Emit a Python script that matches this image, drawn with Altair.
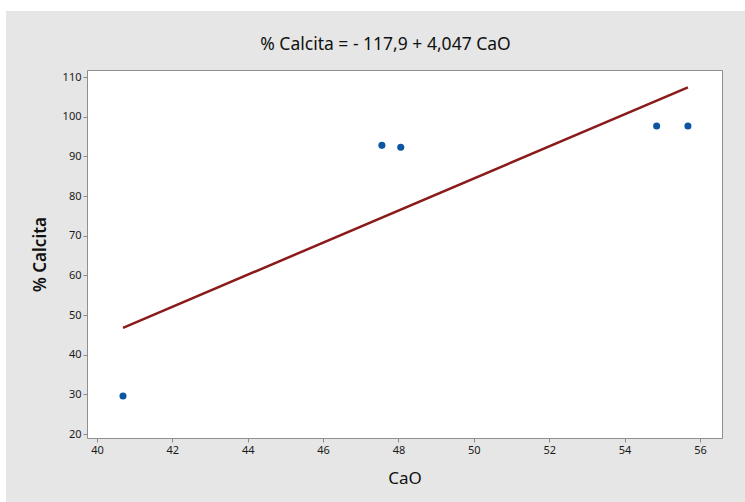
import altair as alt
import pandas as pd

# Observations: CaO content vs. % calcite
cao = [40.69, 47.56, 48.06, 54.85, 55.68]
calcita = [29.6, 92.8, 92.3, 97.7, 97.7]

# Fitted regression line (as printed in the title)
intercept = -117.9
slope = 4.047
title_text = "% Calcita = - 117,9 + 4,047 CaO"

x_ticks = [40, 42, 44, 46, 48, 50, 52, 54, 56]
y_ticks = [20, 30, 40, 50, 60, 70, 80, 90, 100, 110]

points = pd.DataFrame({"CaO": cao, "Calcita": calcita})
fit = pd.DataFrame({"CaO": [min(cao), max(cao)]})

W, H = 635, 368
FONT = "Noto Sans"
GRAY_BG = "#e6e6e6"

x_scale = alt.Scale(domain=[39.735, 56.584], nice=False, zero=False)
y_scale = alt.Scale(domain=[19.0, 111.8], nice=False, zero=False)

x_axis = alt.Axis(
    values=x_ticks, title="CaO", grid=False, domain=False,
    tickColor="#8a8a8a", tickSize=4, labelPadding=2,
    labelFont=FONT, labelFontSize=11, labelColor="#1a1a1a",
    titleFont=FONT, titleFontSize=17, titleFontWeight="normal", titleColor="#111111",
    titleX=W / 2, titleY=40, titleBaseline="middle", titleAlign="center",
)
y_axis = alt.Axis(
    values=y_ticks, title="% Calcita", grid=False, domain=False,
    tickColor="#8a8a8a", tickSize=4, labelPadding=2,
    labelFont=FONT, labelFontSize=11, labelColor="#1a1a1a",
    titleFont=FONT, titleFontSize=17, titleFontWeight=600, titleColor="#111111",
    titleX=-47, titleY=H / 2, titleAngle=-90, titleBaseline="middle", titleAlign="center",
)

# Gray panel with a thin white margin at the top and left edges
margin = pd.DataFrame({"k": [0]})
top_strip = alt.Chart(margin).mark_rect(color="white").encode(
    x=alt.value(-87), x2=alt.value(W + 23), y=alt.value(-70), y2=alt.value(-59)
)
left_strip = alt.Chart(margin).mark_rect(color="white").encode(
    x=alt.value(-87), x2=alt.value(-81), y=alt.value(-70), y2=alt.value(H + 64)
)

# Heading with the fitted equation
heading = alt.Chart(pd.DataFrame({"t": [title_text]})).mark_text(
    font=FONT, fontSize=17.5, color="#111111", align="center", baseline="middle"
).encode(text="t:N", x=alt.value(W / 2 - 19), y=alt.value(-25))

line = alt.Chart(fit).transform_calculate(
    Fit=f"{intercept} + {slope} * datum.CaO"
).mark_line(color="#8b1a1a", strokeWidth=2.5).encode(
    x=alt.X("CaO:Q", scale=x_scale, axis=x_axis),
    y=alt.Y("Fit:Q", scale=y_scale, axis=y_axis),
)

dots = alt.Chart(points).mark_circle(color="#0b55a3", opacity=1, size=50).encode(
    x=alt.X("CaO:Q", scale=x_scale, axis=x_axis),
    y=alt.Y("Calcita:Q", scale=y_scale, axis=y_axis),
)

chart = alt.layer(top_strip, left_strip, heading, line, dots).properties(
    width=W,
    height=H,
    background=GRAY_BG,
    padding={"left": 87, "top": 70, "right": 23, "bottom": 64},
    autosize=alt.AutoSizeParams(type="none"),
).configure_view(
    fill="white", stroke="#8f8f8f", strokeWidth=1
)

chart.save("out.html", embed_options={"renderer": "svg", "actions": False})
